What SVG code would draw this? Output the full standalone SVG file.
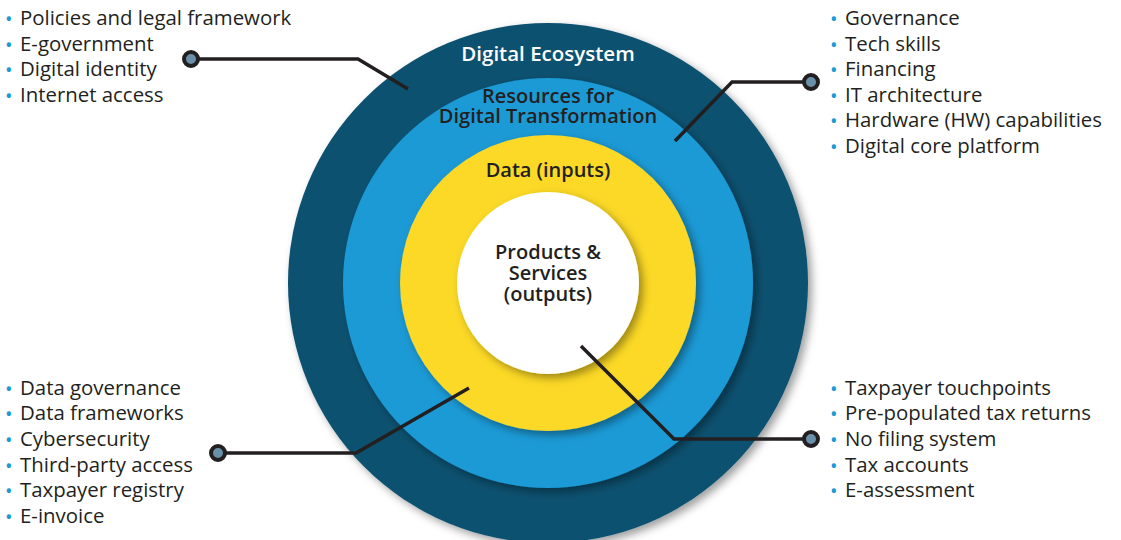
<svg xmlns="http://www.w3.org/2000/svg" width="1121" height="540" viewBox="0 0 1121 540">
  <defs>
    <filter id="ringShadow" x="-20%" y="-20%" width="145%" height="145%">
      <feDropShadow dx="4" dy="4" stdDeviation="4" flood-color="#000" flood-opacity="0.38"/>
    </filter>
    <style>
      .list { font-family: "Open Sans", "Liberation Sans", sans-serif; font-size: 20.4px; fill: #231f20; }
      .dot { fill: #1a9ad6; font-size: 20px; }
      .ring-label { font-family: "Open Sans", "Liberation Sans", sans-serif; font-weight: 600; font-size: 20px; text-anchor: middle; fill: #231f20; }
      .ring-label.light { fill: #ffffff; font-size: 20.5px; }
      .leader { fill: none; stroke: #231f20; stroke-width: 3.5; stroke-linejoin: miter; }
      .pin { fill: #6a8fa8; stroke: #231f20; stroke-width: 4; }
    </style>
  </defs>

  <rect width="1121" height="540" fill="#ffffff"/>

  <!-- concentric rings, outermost first -->
  <g id="ring-ecosystem">
    <circle cx="548" cy="283" r="260" fill="#0f5170" filter="url(#ringShadow)"/>
    <text class="ring-label light" x="548" y="61">Digital Ecosystem</text>
  </g>
  <g id="ring-resources">
    <circle cx="548" cy="283" r="205" fill="#1a9ad6" filter="url(#ringShadow)"/>
    <text class="ring-label" x="548" y="103"><tspan x="548">Resources for</tspan><tspan x="548" dy="20">Digital Transformation</tspan></text>
  </g>
  <g id="ring-data">
    <circle cx="548" cy="283" r="148" fill="#fcd928" filter="url(#ringShadow)"/>
    <text class="ring-label" x="548" y="177">Data (inputs)</text>
  </g>
  <g id="core-products">
    <circle cx="548" cy="283" r="91" fill="#ffffff" filter="url(#ringShadow)"/>
    <text class="ring-label" x="548" y="259"><tspan x="548">Products &amp;</tspan><tspan x="548" dy="21">Services</tspan><tspan x="548" dy="21">(outputs)</tspan></text>
  </g>

  <!-- bullet lists -->
  <g id="list-ecosystem" class="list">
    <text y="25"><tspan class="dot" x="5" dy="1">•</tspan><tspan x="20" dy="-1">Policies and legal framework</tspan></text>
    <text y="51"><tspan class="dot" x="5" dy="1">•</tspan><tspan x="20" dy="-1">E-government</tspan></text>
    <text y="76"><tspan class="dot" x="5" dy="1">•</tspan><tspan x="20" dy="-1">Digital identity</tspan></text>
    <text y="102"><tspan class="dot" x="5" dy="1">•</tspan><tspan x="20" dy="-1">Internet access</tspan></text>
  </g>

  <g id="list-resources" class="list">
    <text y="25"><tspan class="dot" x="830" dy="1">•</tspan><tspan x="845" dy="-1">Governance</tspan></text>
    <text y="51"><tspan class="dot" x="830" dy="1">•</tspan><tspan x="845" dy="-1">Tech skills</tspan></text>
    <text y="76"><tspan class="dot" x="830" dy="1">•</tspan><tspan x="845" dy="-1">Financing</tspan></text>
    <text y="102"><tspan class="dot" x="830" dy="1">•</tspan><tspan x="845" dy="-1">IT architecture</tspan></text>
    <text y="127"><tspan class="dot" x="830" dy="1">•</tspan><tspan x="845" dy="-1">Hardware (HW) capabilities</tspan></text>
    <text y="153"><tspan class="dot" x="830" dy="1">•</tspan><tspan x="845" dy="-1">Digital core platform</tspan></text>
  </g>

  <g id="list-data" class="list">
    <text y="395"><tspan class="dot" x="5" dy="1">•</tspan><tspan x="20" dy="-1">Data governance</tspan></text>
    <text y="420"><tspan class="dot" x="5" dy="1">•</tspan><tspan x="20" dy="-1">Data frameworks</tspan></text>
    <text y="446"><tspan class="dot" x="5" dy="1">•</tspan><tspan x="20" dy="-1">Cybersecurity</tspan></text>
    <text y="472"><tspan class="dot" x="5" dy="1">•</tspan><tspan x="20" dy="-1">Third-party access</tspan></text>
    <text y="497"><tspan class="dot" x="5" dy="1">•</tspan><tspan x="20" dy="-1">Taxpayer registry</tspan></text>
    <text y="523"><tspan class="dot" x="5" dy="1">•</tspan><tspan x="20" dy="-1">E-invoice</tspan></text>
  </g>

  <g id="list-products" class="list">
    <text y="395"><tspan class="dot" x="830" dy="1">•</tspan><tspan x="845" dy="-1">Taxpayer touchpoints</tspan></text>
    <text y="420"><tspan class="dot" x="830" dy="1">•</tspan><tspan x="845" dy="-1">Pre-populated tax returns</tspan></text>
    <text y="446"><tspan class="dot" x="830" dy="1">•</tspan><tspan x="845" dy="-1">No filing system</tspan></text>
    <text y="472"><tspan class="dot" x="830" dy="1">•</tspan><tspan x="845" dy="-1">Tax accounts</tspan></text>
    <text y="497"><tspan class="dot" x="830" dy="1">•</tspan><tspan x="845" dy="-1">E-assessment</tspan></text>
  </g>

  <!-- leader lines from each ring to its list -->
  <g id="connectors">
    <polyline class="leader" points="191,59 358,59 408,89"/>
    <circle class="pin" cx="191" cy="59" r="7"/>

    <polyline class="leader" points="811,82 732,82 675,141"/>
    <circle class="pin" cx="811" cy="82" r="7"/>

    <polyline class="leader" points="218,453 356,453 469,388"/>
    <circle class="pin" cx="218" cy="453" r="7"/>

    <polyline class="leader" points="581,346 674,439 811,439"/>
    <circle class="pin" cx="811" cy="439" r="7"/>
  </g>
</svg>
